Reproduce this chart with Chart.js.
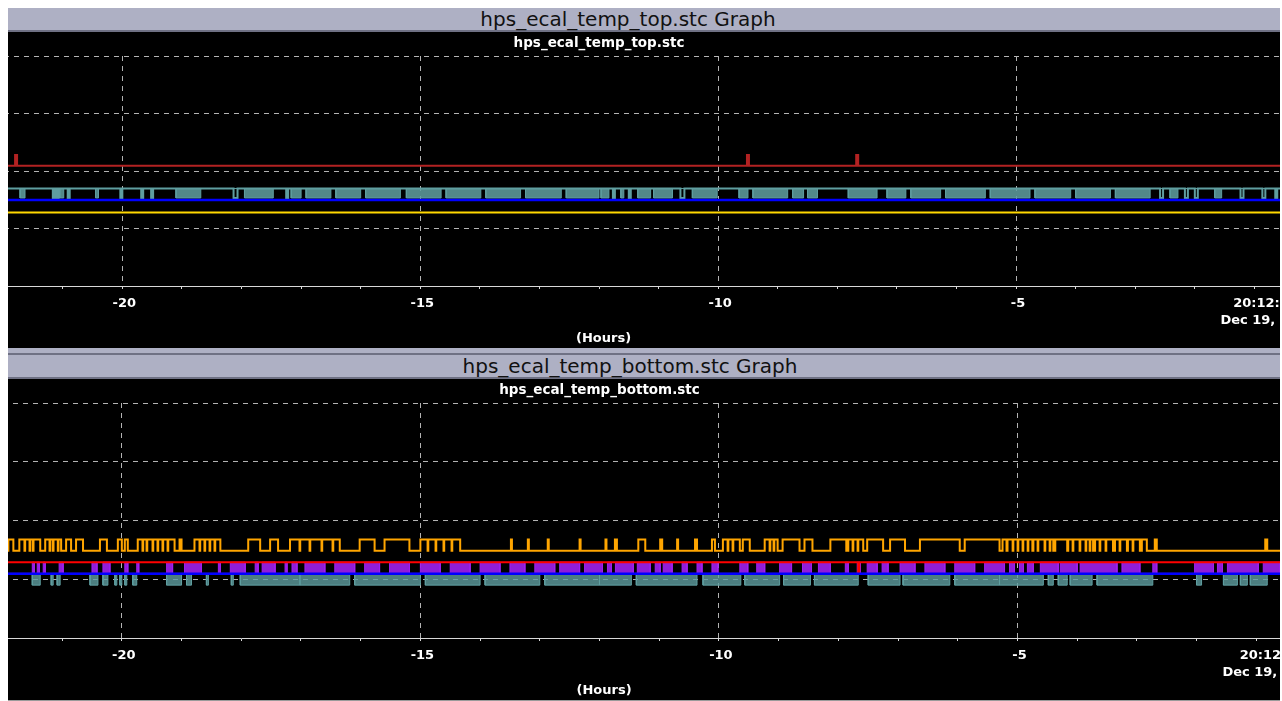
<!DOCTYPE html>
<html>
<head>
<meta charset="utf-8">
<script src="https://cdn.jsdelivr.net/npm/chart.js@4.4.1/dist/chart.umd.min.js"></script>
<style>
html,body{margin:0;padding:0;background:#fff;width:1282px;height:701px;overflow:hidden;position:relative;}
.frame{position:absolute;left:8px;width:1272px;background:#aeb0c4;}
.bar{position:absolute;left:8px;width:1272px;height:22px;background:#aeb0c4;border-bottom:2px solid #6f7184;}
.dark{position:absolute;left:8px;width:1272px;background:#6f7184;}
.ttl{position:absolute;transform:translateX(-50%);font-family:"DejaVu Sans";font-size:20px;line-height:22px;color:#111;white-space:nowrap;}
.plot{position:absolute;left:8px;width:1272px;background:#000;overflow:hidden;}
.plot canvas{position:absolute;top:0;}
</style>
</head>
<body>
<div class="bar" style="top:8px"></div>
<div class="ttl" style="top:8px;left:628px">hps_ecal_temp_top.stc Graph</div>
<div class="plot" style="top:32px;height:316px"><canvas id="c1" width="1490" height="316" style="left:-152px"></canvas></div>

<div class="frame" style="top:348px;height:5px"></div>
<div class="dark" style="top:353px;height:2px"></div>
<div class="bar" style="top:355px"></div>
<div class="ttl" style="top:355px;left:630px">hps_ecal_temp_bottom.stc Graph</div>
<div class="plot" style="top:379px;height:321px"><canvas id="c2" width="1500" height="321" style="left:-155px"></canvas></div>
<div class="dark" style="top:700px;height:1px;background:#9a9a9a"></div>

<script>
// ---------- axis ----------
const hourTicks = [-24,-23,-22,-21,-20,-19,-18,-17,-16,-15,-14,-13,-12,-11,-10,-9,-8,-7,-6,-5,-4,-3,-2,-1,0];
const majorHours = [-20,-15,-10,-5];
const endLabelTop = ['20:12:34    ', 'Dec 19, 2014'];
const endLabelBottom = ['20:12:34   ', 'Dec 19, 2014'];
const yRange = [14, 22, 2];   // min, max, step (deg C)

// ---------- top graph (times = minutes before 20:12:34) ----------
const topRedLevels = [18.18, 18.56];            // base, spike
const topRedSpikes = [[1308,1306],[571,569],[461,459]];
const topCyanLevels = [17.39, 17.06];           // rest, dip
const topCyanDips = [[1270,1268],[1266,1264],[1255,1253],[1202,1200],[1181,1179],[1171,1169],[1088,1084],[1035,1033],
  [706,704],[690,688],[638,634],[155,152],[130,127],[120,117],[74,71],[52,49],[39,37]];
const topCyanBursts = [[1303,1298],[1263,1259],[1227,1224],[1146,1121],[1077,1048],[1030,1020],[1015,990],[985,960],
  [955,920],[914,879],[874,839],[834,799],[794,758],[753,720],[718,710],[698,695],[681,668],[665,646],[626,601],
  [579,570],[565,530],[525,514],[510,500],[469,440],[430,411],[406,376],[371,331],[326,286],[281,245],[240,205],
  [200,165],[145,137],[100,93]];
const topBlueLevel = 16.99;
const topYellowLevel = 16.56;

// ---------- bottom graph ----------
const botOrangeLevels = [16.97, 17.35];          // rest, high
const botOrangeHigh = [[1314,1309],[1303,1282],[1277,1261],[1256,1251],[1246,1239],[1222,1215],[1204,1200],[1197,1194],
  [1184,1147],[1142,1140],[1127,1101],[1073,1061],[1051,1043],[1031,981],[961,946],[936,911],[900,860],[809,808],
  [792,791],[772,771],[740,739],[714,713],[704.5,702.5],[681,674],[659,657],[642,641],[624,622],[607,604],[596,579],
  [576,569],[554,541],[536,519],[514,506],[488,472],[470,455],[451,435],[428,413],[398,358],[353,318],[315,311],
  [310,285],[284,264],[262,250],[249,224],[222,204],[202,190],[189,177],[175,170],[162,160],[51,49]];
const botOrangeDips = [1297.5,1292.4,1289.1,1272.3,1269,1264,1178.9,1174.8,1168.8,1163.8,1158.8,1153.7,1121.6,1116.6,
  1111.5,1106.5,1021.1,1011,999,987.9,892.4,884.4,876.4,868.3,590.9,585.9,548.7,544.7,465.3,460.3,304.5,299.5,294.5,
  289.4,279.4,272.4,267.3,244.2,237.2,231.2,227.1,217.1,211.1,197,183.9];
const botRedLevels = [16.58, 16.20];             // base, dip
const botRedDips = [[460,459]];
const botPurpleLevels = [16.20, 16.58];          // rest, high
const botPurpleBursts = [[1290,1288],[1285,1283],[1279,1277],[1263,1259],[1230,1225],[1219,1212],[1197,1194],[1185,1183],
  [1155,1149],[1137,1120],[1103,1101],[1091,1076],[1066,1063],[1059,1046],[1036,1034],[1029,1024],[1016,996],[986,966],
  [956,941],[931,911],[900,880],[870,850],[840,820],[810,795],[785,765],[760,740],[735,717],[712,708],[704,686],
  [682,669],[664,659],[656,647],[637,632],[622,617],[607,601],[579,571],[562,554],[539,527],[516,507],[500,488],
  [473,470],[461,458],[451,441],[436,430],[418,403],[393,373],[363,343],[333,313],[308,303],[298,294],[290,284],
  [277,259],[257,240],[237,200],[195,177],[164,160],[122,103],[99,94],[89,58],[53,36]];
const botBlueLevel = 16.19;
const botCyanLevels = [16.19, 15.80];            // rest, low
const botCyanBursts = [[1290,1282],[1271,1269],[1265,1262],[1232,1224],[1219,1214],[1207,1205],[1202,1200],[1197,1195],
  [1189,1185],[1155,1140],[1135,1130],[1115,1113],[1090,1088],[1081,1021],[1021,971],[966,900],[895,840],[835,780],
  [775,720],[720,688],[683,622],[616,578],[574,539],[535,508],[504,460],[450,418],[415,368],[363,318],[318,274],
  [269,264],[259,250],[247,225],[220,164],[120,115],[93,79],[76,69],[66,49]];

// ---------- helpers ----------
const X_MIN = hourTicks[0], X_MAX = hourTicks[hourTicks.length - 1];
const toX = m => -m / 60;
function flat(y) { return [{x: X_MIN, y}, {x: X_MAX, y}]; }
function steps(levels, intervals) {
  const rest = levels[0], alt = levels[1];
  const iv = intervals.map(([a, b]) => [toX(Math.max(a, b)), toX(Math.min(a, b))]).sort((p, q) => p[0] - q[0]);
  const pts = [{x: X_MIN, y: rest}];
  for (const [x1, x2] of iv) pts.push({x: x1, y: rest}, {x: x1, y: alt}, {x: x2, y: alt}, {x: x2, y: rest});
  pts.push({x: X_MAX, y: rest});
  return pts;
}
// signal = alt inside "on" intervals, except at short "dip" instants (minutes) where it returns to rest
function stepsWithDips(levels, onIntervals, dipTimes) {
  const rest = levels[0], alt = levels[1];
  const on = onIntervals.map(([a, b]) => [toX(Math.max(a, b)), toX(Math.min(a, b))]);
  const off = dipTimes.map(m => [toX(m + 0.35), toX(m - 0.35)]);
  const bounds = [...new Set([X_MIN, X_MAX, ...on.flat(), ...off.flat()])].sort((p, q) => p - q);
  const inAny = (list, x) => list.some(([s, e]) => x > s && x < e);
  const pts = [];
  let prev = null;
  for (let i = 0; i < bounds.length - 1; i++) {
    const mid = (bounds[i] + bounds[i + 1]) / 2;
    const y = inAny(on, mid) && !inAny(off, mid) ? alt : rest;
    if (prev === null) pts.push({x: bounds[i], y});
    else if (y !== prev) pts.push({x: bounds[i], y: prev}, {x: bounds[i], y});
    prev = y;
  }
  pts.push({x: X_MAX, y: prev});
  return pts;
}
function line(data, color, w) {
  return {data, borderColor: color, backgroundColor: color, borderWidth: w || 2, pointRadius: 0, tension: 0, fill: false};
}
function burst(levels, intervals, color, fillColor, w) {
  return {data: steps(levels, intervals), borderColor: color, backgroundColor: fillColor, borderWidth: w || 1,
    pointRadius: 0, tension: 0, fill: {value: levels[0]}};
}

const GRID = '#b4b4b4';
const tickFont = {family: 'DejaVu Sans', weight: 'bold', size: 13, lineHeight: 1.3};

function makeChart(id, subtitle, endLabel, datasets, padL, padR) {
  return new Chart(document.getElementById(id), {
    type: 'line',
    data: {datasets},
    options: {
      responsive: false, animation: false, devicePixelRatio: 1, events: [],
      parsing: false,
      layout: {padding: {left: padL, right: padR, top: 0, bottom: 0}},
      plugins: {
        legend: {display: false}, tooltip: {enabled: false},
        title: {display: true, text: subtitle, color: '#ffffff',
          font: {family: 'DejaVu Sans', weight: 'bold', size: 13.5, lineHeight: 1.2},
          padding: {top: 3.6, bottom: 4.2}}
      },
      scales: {
        x: {
          type: 'linear', min: X_MIN, max: X_MAX, z: 1,
          afterBuildTicks: s => { s.ticks = hourTicks.map(v => ({value: v})); },
          afterFit: s => { s.height = 62; },
          ticks: {
            autoSkip: false, maxRotation: 0, align: 'inner', color: '#ffffff', font: tickFont, padding: 6,
            labelOffset: 2,
            callback: v => v === X_MAX ? endLabel : (majorHours.includes(v) ? String(v) : '')
          },
          grid: {
            color: c => (c.tick && majorHours.includes(c.tick.value)) ? GRID : 'rgba(0,0,0,0)',
            lineWidth: 1, drawTicks: true, tickLength: 3, tickColor: '#d8d8d8', tickWidth: 1, tickBorderDash: []
          },
          border: {display: true, color: '#d8d8d8', width: 1, dash: [5, 5]},
          title: {display: true, text: '\u00a0\u00a0(Hours)', color: '#ffffff',
            font: {family: 'DejaVu Sans', weight: 'bold', size: 13, lineHeight: 1.2}, padding: {top: 0, bottom: 2}}
        },
        y: {
          type: 'linear', min: yRange[0], max: yRange[1], z: 1,
          afterFit: s => { s.width = 0; },
          ticks: {display: false, stepSize: yRange[2]},
          grid: {color: GRID, lineWidth: 1, drawTicks: false},
          border: {display: false, dash: [5, 5]}
        }
      }
    }
  });
}

makeChart('c1', 'hps_ecal_temp_top.stc', endLabelTop, [
  line(flat(topBlueLevel), '#0000ff', 2.5),
  line(steps(topRedLevels, topRedSpikes), '#b22222', 2),
  line(flat(topYellowLevel), '#ffd700', 2),
  line(steps(topCyanLevels, topCyanDips), '#5f9ea0', 2),
  burst(topCyanLevels, topCyanBursts, '#5f9ea0', 'rgba(95,158,160,0.86)', 1)
], 28, 32);

makeChart('c2', 'hps_ecal_temp_bottom.stc', endLabelBottom, [
  line(flat(botBlueLevel), '#0000ff', 2.5),
  line(steps(botRedLevels, botRedDips), '#ff0000', 2),
  line(stepsWithDips(botOrangeLevels, botOrangeHigh, botOrangeDips), '#ffa500', 2),
  burst(botPurpleLevels, botPurpleBursts, '#a020f0', 'rgba(160,32,240,0.9)', 1),
  burst(botCyanLevels, botCyanBursts, '#5f9ea0', 'rgba(95,158,160,0.8)', 1)
], 30, 37);
</script>
</body>
</html>
